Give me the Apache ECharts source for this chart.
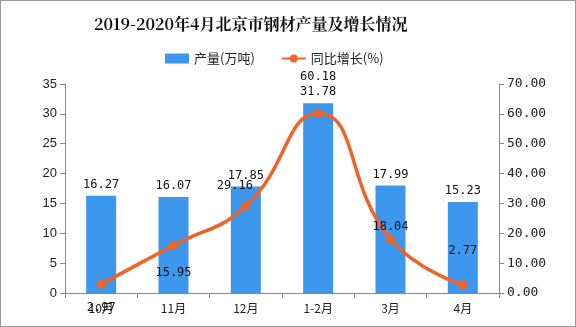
<!DOCTYPE html>
<html><head><meta charset="utf-8">
<script src="https://cdn.jsdelivr.net/npm/echarts@6/dist/echarts.min.js"></script>
<style>html,body{margin:0;padding:0;background:#fff}#c{width:576px;height:327px;box-sizing:border-box;border:1px solid #999}</style>
</head><body><div id="c"></div>
<script>
const categories = ['10月','11月','12月','1-2月','3月','4月'];
const output = [16.27,16.07,17.85,31.78,17.99,15.23];
const growth = [2.97,15.95,29.16,60.18,18.04,2.77];
const leftTicks = [0,5,10,15,20,25,30,35];
const rightTicks = [0,10,20,30,40,50,60,70];
const growthLabelOffset = [[0,24],[0,27],[-11,-20],[0,-36],[0,-12],[0,-34]];

const chart = echarts.init(document.getElementById('c'));
const labFont = '"Noto Sans CJK SC", sans-serif';
const monoFont = '"DejaVu Sans Mono",monospace';
chart.setOption({
  animation:false,
  title:{text:'2019-2020年4月北京市钢材产量及增长情况',left:88,top:10,
    textStyle:{fontSize:16,fontWeight:'bold',color:'#111',fontFamily:'"Noto Serif CJK SC","Noto Sans CJK SC",serif'}},
  legend:{top:46,left:159,itemGap:26,itemWidth:24,itemHeight:10,
    textStyle:{fontSize:13,color:'#222',fontFamily:labFont},
    data:[{name:'产量(万吨)',icon:'rect'},{name:'同比增长(%)'}]},
  grid:{left:64,right:76,top:83,bottom:33},
  xAxis:{type:'category',data:categories,
    axisLine:{lineStyle:{color:'#888'}},
    axisTick:{show:true,length:5,lineStyle:{color:'#888'}},
    axisLabel:{color:'#222',fontSize:12,margin:9,fontFamily:labFont}},
  yAxis:[
    {type:'value',min:0,max:35,interval:5,
      axisLine:{show:true,lineStyle:{color:'#888'}},
      axisTick:{show:true,length:5,lineStyle:{color:'#888'}},
      splitLine:{show:false},
      axisLabel:{color:'#222',fontSize:13,fontFamily:'"Liberation Sans",Arial',margin:8,
        formatter:v=>leftTicks.includes(v)?String(v):''}},
    {type:'value',min:0,max:70,interval:10,position:'right',
      axisLine:{show:true,lineStyle:{color:'#888'}},
      axisTick:{show:true,length:5,lineStyle:{color:'#888'}},
      splitLine:{show:false},
      axisLabel:{color:'#222',fontSize:13,fontFamily:monoFont,margin:8,
        formatter:v=>rightTicks.includes(v)?v.toFixed(2):''}}
  ],
  series:[
    {name:'产量(万吨)',type:'bar',data:output,barWidth:30,yAxisIndex:0,
      itemStyle:{color:'#3d97ec'},
      label:{show:true,position:'top',color:'#111',fontSize:12,fontFamily:monoFont,
        formatter:p=>p.value.toFixed(2)}},
    {name:'同比增长(%)',type:'line',yAxisIndex:1,smooth:0.5,
      data:growth.map((v,i)=>({value:v,label:{offset:growthLabelOffset[i]}})),
      symbol:'circle',symbolSize:9,z:3,
      lineStyle:{color:'#f0642a',width:3.5},
      itemStyle:{color:'#f0642a'},
      label:{show:true,position:'inside',color:'#111',fontSize:12,fontFamily:monoFont,
        formatter:p=>p.value.toFixed(2)}}
  ]
});
</script></body></html>
